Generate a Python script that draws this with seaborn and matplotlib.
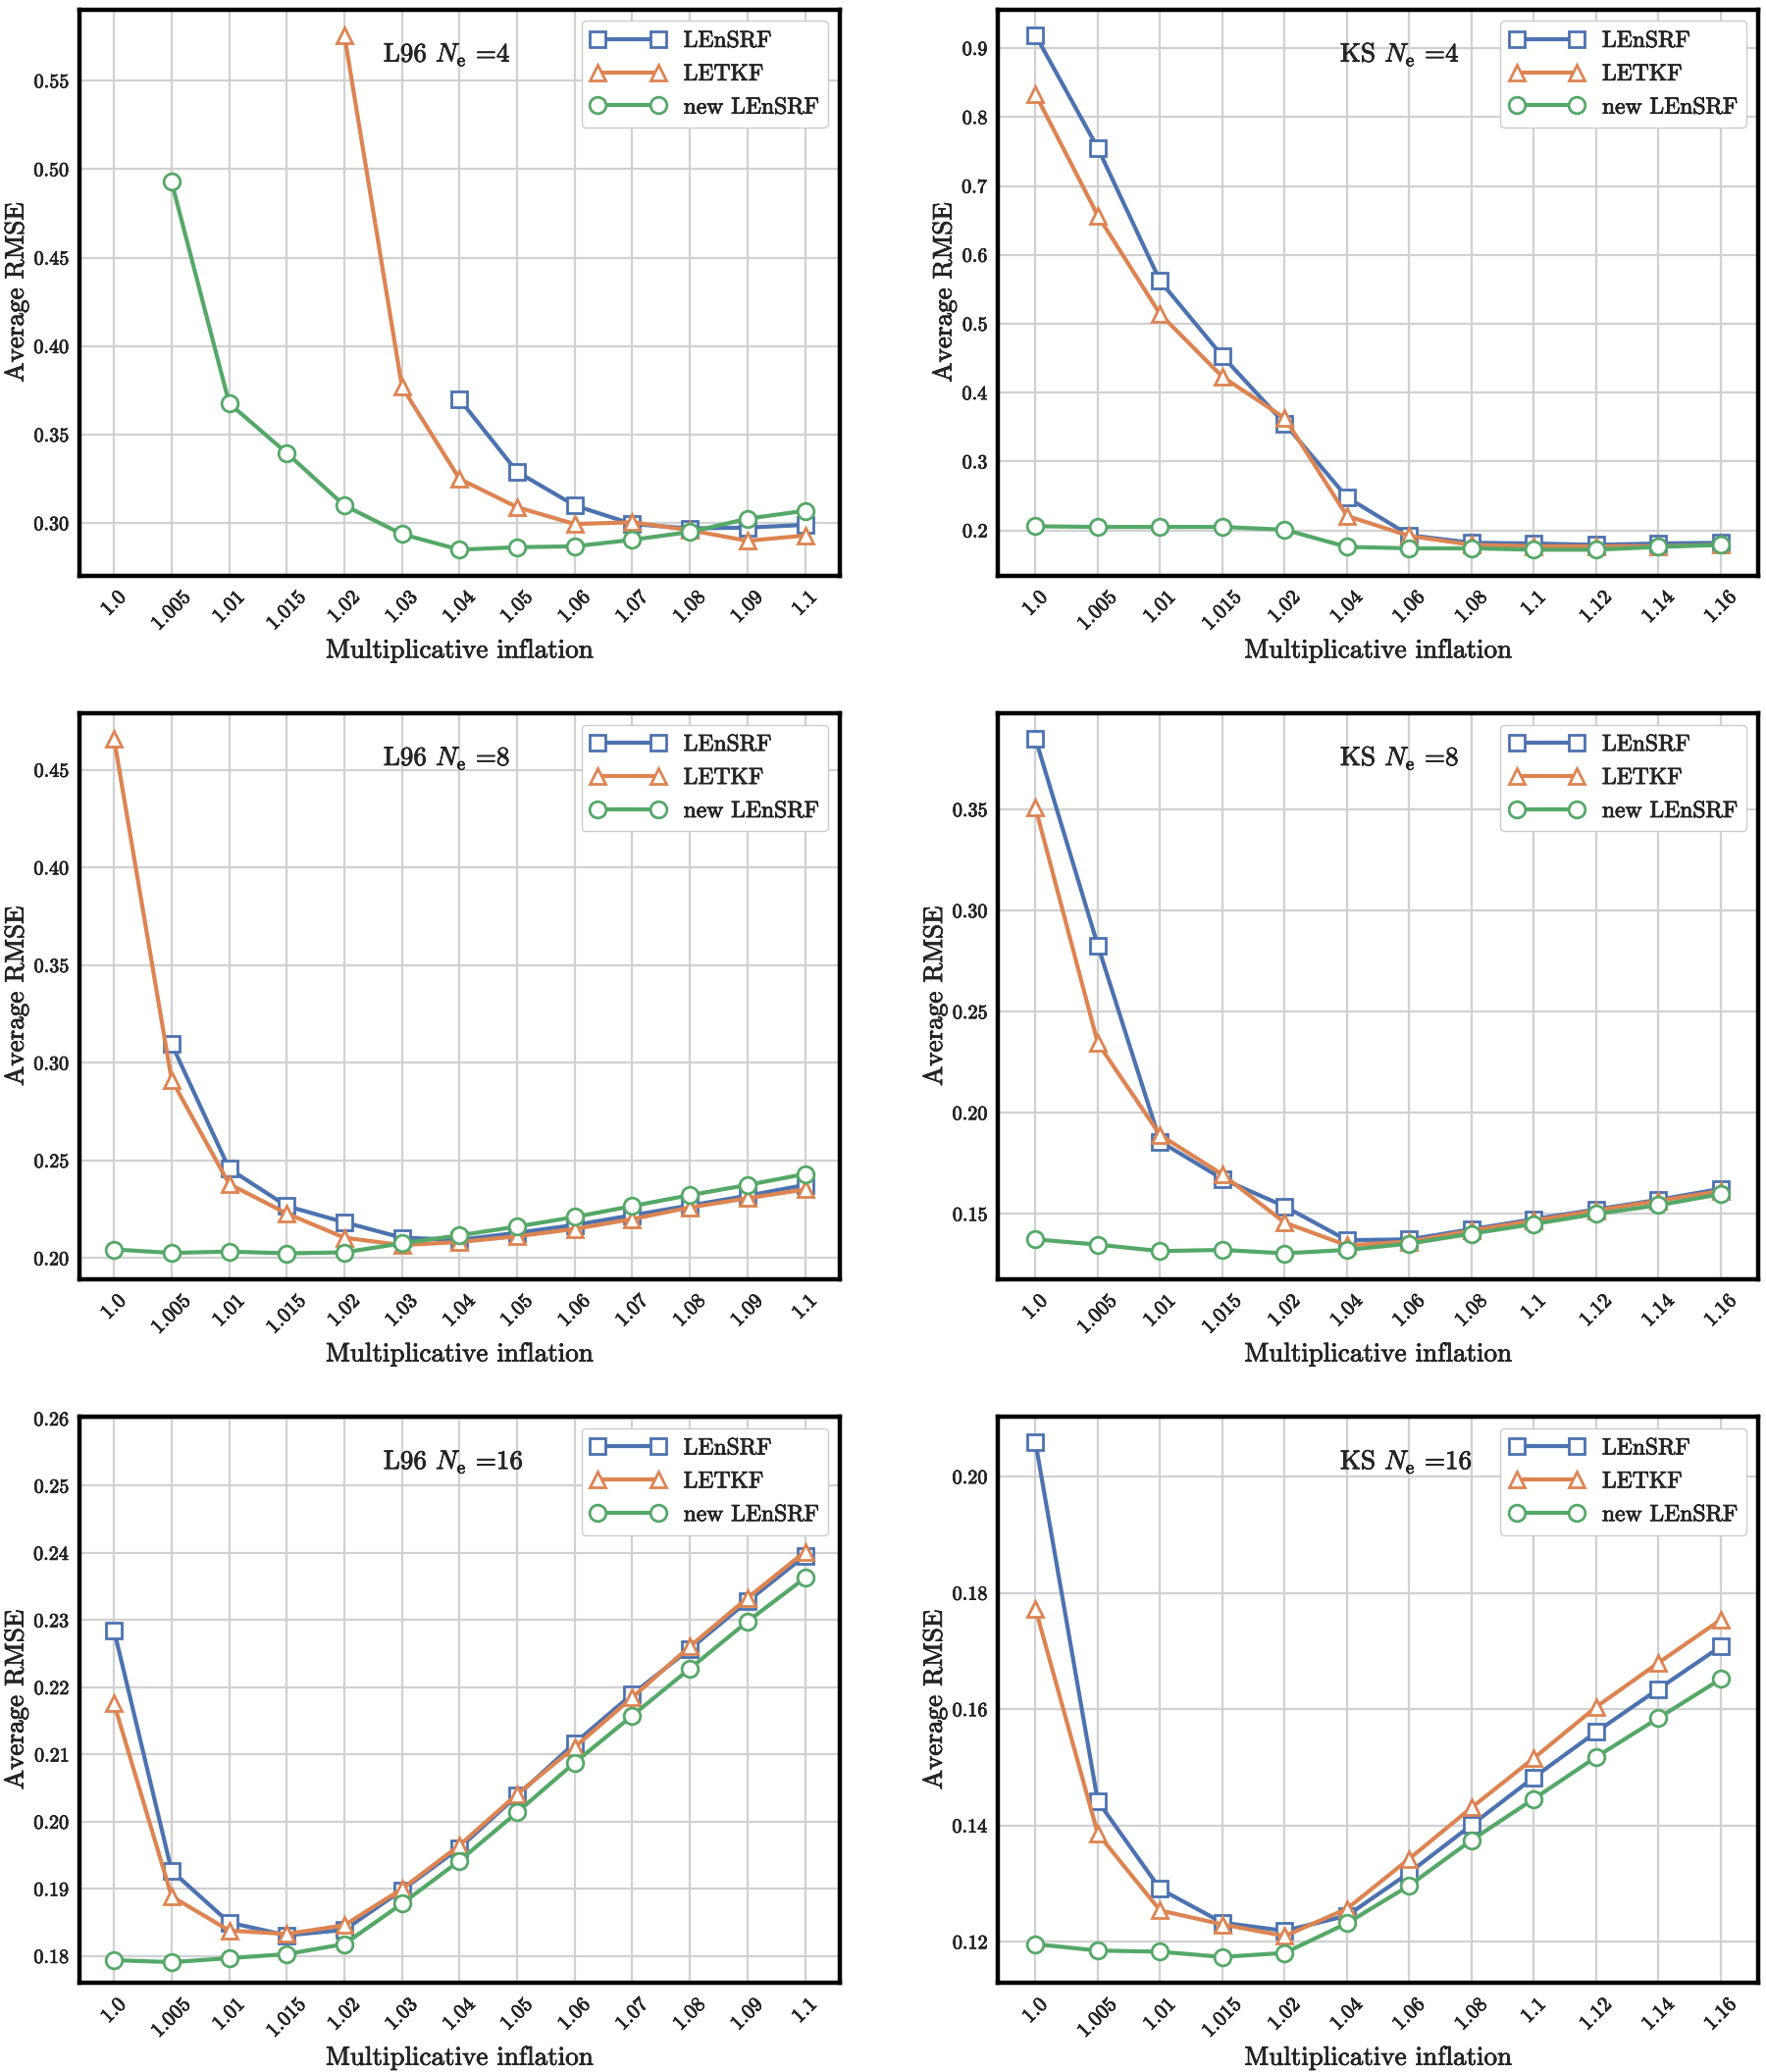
import numpy as np
import matplotlib
matplotlib.use("Agg")
import matplotlib.pyplot as plt
import matplotlib.patheffects as pe
import seaborn as sns

nan = np.nan

# inflation values on the x axis (categorical)
infl_l96 = ['1.0', '1.005', '1.01', '1.015', '1.02', '1.03', '1.04',
            '1.05', '1.06', '1.07', '1.08', '1.09', '1.1']
infl_ks = ['1.0', '1.005', '1.01', '1.015', '1.02', '1.04', '1.06',
           '1.08', '1.1', '1.12', '1.14', '1.16']

# L96, Ne = 4
l96_4_lensrf = [nan, nan, nan, nan, nan, nan, 0.370, 0.329, 0.310, 0.2995, 0.297, 0.2975, 0.299]
l96_4_letkf = [nan, nan, nan, nan, 0.5758, 0.377, 0.325, 0.309, 0.2995, 0.3005, 0.296, 0.290, 0.293]
l96_4_new = [nan, 0.4928, 0.3677, 0.3396, 0.310, 0.2938, 0.285, 0.2864, 0.2869, 0.2906, 0.295, 0.3025, 0.307]

# KS, Ne = 4
ks_4_lensrf = [0.919, 0.755, 0.562, 0.453, 0.355, 0.248, 0.193, 0.182, 0.181, 0.179, 0.181, 0.182]
ks_4_letkf = [0.833, 0.657, 0.514, 0.423, 0.363, 0.221, 0.192, 0.179, 0.177, 0.177, 0.177, 0.179]
ks_4_new = [0.206, 0.205, 0.205, 0.205, 0.201, 0.176, 0.174, 0.174, 0.172, 0.172, 0.176, 0.179]

# L96, Ne = 8
l96_8_lensrf = [nan, 0.3097, 0.2458, 0.2267, 0.2184, 0.2105, 0.2094, 0.213, 0.217, 0.222, 0.227, 0.232, 0.2375]
l96_8_letkf = [0.466, 0.2913, 0.238, 0.2229, 0.2105, 0.2067, 0.2083, 0.2112, 0.215, 0.220, 0.226, 0.2307, 0.2352]
l96_8_new = [0.2045, 0.2027, 0.2034, 0.2025, 0.203, 0.2076, 0.2117, 0.2162, 0.2211, 0.2267, 0.2323, 0.2375, 0.2431]

# KS, Ne = 8
ks_8_lensrf = [0.385, 0.2828, 0.1858, 0.1673, 0.1537, 0.137, 0.1374, 0.1424, 0.1474, 0.1522, 0.157, 0.1624]
ks_8_letkf = [0.3509, 0.2345, 0.189, 0.1695, 0.1457, 0.1344, 0.1363, 0.1418, 0.1467, 0.1517, 0.1565, 0.1613]
ks_8_new = [0.1374, 0.1348, 0.1316, 0.1322, 0.1305, 0.1322, 0.1353, 0.1402, 0.145, 0.150, 0.1543, 0.1598]

# L96, Ne = 16
l96_16_lensrf = [0.2285, 0.1927, 0.185, 0.1831, 0.1839, 0.1898, 0.1961, 0.2039, 0.2117, 0.219, 0.2257, 0.2328, 0.2396]
l96_16_letkf = [0.2176, 0.1889, 0.1838, 0.1833, 0.1846, 0.190, 0.1965, 0.2041, 0.2111, 0.2185, 0.2261, 0.2333, 0.2402]
l96_16_new = [0.1794, 0.1791, 0.1797, 0.1803, 0.1818, 0.1878, 0.1942, 0.2014, 0.2088, 0.2158, 0.2228, 0.2298, 0.2363]

# KS, Ne = 16
ks_16_lensrf = [0.2059, 0.1442, 0.1291, 0.1233, 0.1219, 0.1245, 0.1319, 0.1401, 0.1483, 0.1561, 0.1635, 0.1708]
ks_16_letkf = [0.1773, 0.1386, 0.1254, 0.123, 0.121, 0.1257, 0.1343, 0.1431, 0.1516, 0.1604, 0.168, 0.1754]
ks_16_new = [0.1196, 0.1185, 0.1183, 0.1174, 0.1181, 0.1232, 0.1297, 0.1375, 0.1446, 0.1518, 0.1585, 0.1652]

methods = ['LEnSRF', 'LETKF', 'new LEnSRF']
markers = ['s', '^', 'o']

sns.set_style("whitegrid")
plt.rcParams['font.family'] = ['cmr10', 'DejaVu Serif']
plt.rcParams['mathtext.fontset'] = 'cm'
plt.rcParams['axes.formatter.use_mathtext'] = True
colors = sns.color_palette("deep")[:3]

panels = [
    ('L96', 4, infl_l96, [l96_4_lensrf, l96_4_letkf, l96_4_new]),
    ('KS', 4, infl_ks, [ks_4_lensrf, ks_4_letkf, ks_4_new]),
    ('L96', 8, infl_l96, [l96_8_lensrf, l96_8_letkf, l96_8_new]),
    ('KS', 8, infl_ks, [ks_8_lensrf, ks_8_letkf, ks_8_new]),
    ('L96', 16, infl_l96, [l96_16_lensrf, l96_16_letkf, l96_16_new]),
    ('KS', 16, infl_ks, [ks_16_lensrf, ks_16_letkf, ks_16_new]),
]

# slight stroke so the thin Computer Modern glyphs look like the original raster
bold = [pe.withStroke(linewidth=0.5, foreground='black')]

fig, axs = plt.subplots(3, 2, figsize=(18, 21.12), dpi=100)
fig.subplots_adjust(left=0.045, right=0.9956, top=0.9955, bottom=0.0431,
                    wspace=0.2085, hspace=0.243)

for ax, (model, ne, infl, series) in zip(axs.flat, panels):
    pos = np.arange(len(infl))
    for name, vals, mk, c in zip(methods, series, markers, colors):
        vals = np.array(vals, dtype=float)
        ok = ~np.isnan(vals)
        sns.lineplot(x=pos[ok], y=vals[ok], ax=ax, color=c, marker=mk,
                     markersize=12, markerfacecolor='white', markeredgecolor=c,
                     markeredgewidth=2.0, linewidth=3.0, label=name)
    ax.set_xticks(pos)
    ax.set_xticklabels(infl)
    ax.set_xlim(-0.6, len(infl) - 0.4)
    ax.tick_params(axis='x', labelrotation=45, labelsize=15, pad=6)
    ax.tick_params(axis='y', labelsize=14.5)
    ax.set_xlabel("Multiplicative inflation", fontsize=19.5)
    ax.set_ylabel("Average RMSE", fontsize=19.5)
    ax.grid(True, color='0.82', linewidth=1.6)
    for sp in ax.spines.values():
        sp.set_color('black')
        sp.set_linewidth(3.2)
    tx = 0.40 if model == 'L96' else 0.45
    ax.text(tx, 0.92, model + r' $N_\mathrm{e}$ =' + str(ne), transform=ax.transAxes,
            ha='left', va='center', fontsize=19.5, path_effects=bold)
    leg = ax.legend(loc='upper right', numpoints=2, handlelength=3.2, fontsize=17,
                    labelspacing=0.5, frameon=True, edgecolor='0.8', framealpha=1)
    texts = ax.get_xticklabels() + ax.get_yticklabels() + leg.get_texts()
    texts += [ax.xaxis.label, ax.yaxis.label]
    for t in texts:
        t.set_path_effects(bold)

axs[2, 0].set_ylim(top=0.2603)

fig.savefig("out.png", dpi=100)
